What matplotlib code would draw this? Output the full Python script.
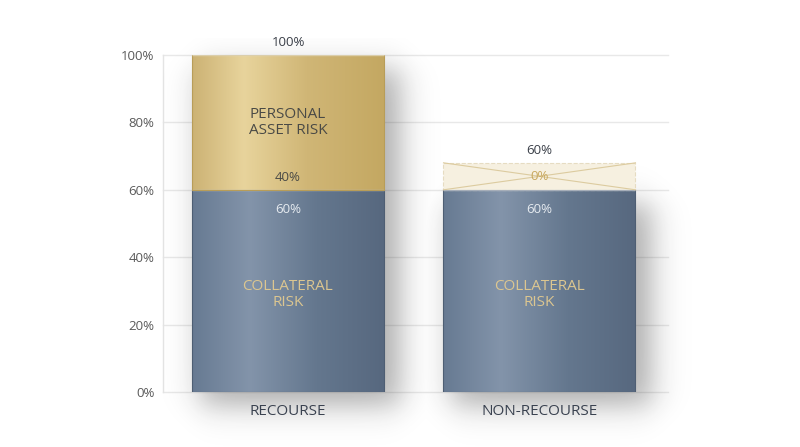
import numpy as np
import matplotlib
matplotlib.use("Agg")
import matplotlib.pyplot as plt
from matplotlib.patches import Rectangle
from matplotlib.colors import LinearSegmentedColormap

# ---- data ----
categories = ["RECOURSE", "NON-RECOURSE"]
collateral = [60, 60]
personal = [40, 0]
totals = [100, 60]
collateral_label = "COLLATERAL\nRISK"
personal_label = "PERSONAL\nASSET RISK"
yticks = [0, 20, 40, 60, 80, 100]

FONT = ["Open Sans", "DejaVu Sans"]
plt.rcParams["font.family"] = FONT

W, H = 800, 447
fig = plt.figure(figsize=(W / 100, H / 100), dpi=100)
ax_l, ax_r, ax_t, ax_b = 163, 668, 55, 392
ax = fig.add_axes([ax_l / W, 1 - ax_b / H, (ax_r - ax_l) / W, (ax_b - ax_t) / H])
xlim = (-0.497, 1.511)
ax.set_xlim(*xlim)
ax.set_ylim(0, 100)
for s in ax.spines.values():
    s.set_visible(False)
ax.set_xticks([])
ax.set_yticks(yticks)
ax.set_yticklabels([f"{v}%" for v in yticks], fontsize=9.5, color="#5a5a5a")
ax.tick_params(axis="y", length=0, pad=6)
for v in yticks:
    ax.axhline(v, color="#e8e8e8", lw=1, zorder=0, clip_on=False)
ax.plot([xlim[0], xlim[0]], [0, 100], color="#e4e4e4", lw=1, zorder=0, clip_on=False)

px_x = (xlim[1] - xlim[0]) / (ax_r - ax_l)
px_y = 100 / (ax_b - ax_t)
bar_w = 192 * px_x
x = np.arange(len(categories))

blue_cmap = LinearSegmentedColormap.from_list(
    "b", [(0, "#677a92"), (0.3, "#8394aa"), (0.65, "#64778e"), (1, "#57687f")])
gold_cmap = LinearSegmentedColormap.from_list(
    "g", [(0, "#ccb274"), (0.27, "#e8d49c"), (0.6, "#d0b676"), (1, "#c4a862")])
grad = np.linspace(0, 1, 256).reshape(1, -1)

# soft shadow behind bars
sx = np.linspace(xlim[0], xlim[1] + 0.3, 600)
sy = np.linspace(-18, 105, 450)
SX, SY = np.meshgrid(sx, sy)
shadow = np.zeros_like(SX)
def sig(z):
    return 1 / (1 + np.exp(-z))
for i in range(len(categories)):
    top = collateral[i] + personal[i]
    x0 = x[i] - bar_w / 2 + 8 * px_x
    x1 = x[i] + bar_w / 2 + 16 * px_x
    y0 = -14 * px_y
    y1 = top - 14 * px_y
    wx = 9 * px_x
    wy = 9 * px_y
    s = sig((SX - x0) / wx) * sig((x1 - SX) / wx) * sig((SY - y0) / wy) * sig((y1 - SY) / wy)
    shadow = np.maximum(shadow, s)
rgba = np.zeros(shadow.shape + (4,))
rgba[..., 0:3] = 0.12
rgba[..., 3] = shadow * 0.36
ax.imshow(rgba, extent=(sx[0], sx[-1], sy[0], sy[-1]), origin="lower",
          aspect="auto", zorder=1, clip_on=False, interpolation="bilinear")

def grad_bar(xc, y0, h, cmap, edge):
    rect = Rectangle((xc - bar_w / 2, y0), bar_w, h, facecolor="none",
                     edgecolor="none", zorder=2)
    ax.add_patch(rect)
    im = ax.imshow(grad, cmap=cmap, extent=(xc - bar_w / 2, xc + bar_w / 2, y0, y0 + h),
                   aspect="auto", zorder=2, interpolation="bilinear")
    im.set_clip_path(rect)
    ax.add_patch(Rectangle((xc - bar_w / 2, y0), bar_w, h, facecolor="none",
                           edgecolor=edge, lw=0.8, zorder=3))
    ax.plot([xc - bar_w / 2, xc + bar_w / 2], [y0 + h, y0 + h], color="white",
            alpha=0.5, lw=1, zorder=3, solid_capstyle="butt")

placeholder_h = 8
for i in range(len(categories)):
    xc = x[i]
    grad_bar(xc, 0, collateral[i], blue_cmap, "#4e5e73")
    ax.text(xc, 29, collateral_label, ha="center", va="center",
            fontsize=11, color="#dcc690", linespacing=1.1, zorder=5)
    ax.annotate(f"{collateral[i]}%", (xc, collateral[i]), xytext=(0, -14),
                textcoords="offset points", ha="center", va="center",
                fontsize=9.5, color="#e6ebf0", zorder=5)
    if personal[i] > 0:
        grad_bar(xc, collateral[i], personal[i], gold_cmap, "#b89d58")
        ax.text(xc, collateral[i] + personal[i] / 2, personal_label, ha="center",
                va="center", fontsize=11, color="#4a4a46", linespacing=1.1, zorder=5)
        ax.annotate(f"{personal[i]}%", (xc, collateral[i]), xytext=(0, 9),
                    textcoords="offset points", ha="center", va="center",
                    fontsize=9.5, color="#4a4a46", zorder=5)
        top = collateral[i] + personal[i]
    else:
        y0 = collateral[i]
        xl, xr = xc - bar_w / 2, xc + bar_w / 2
        ax.add_patch(Rectangle((xl, y0), bar_w, placeholder_h, facecolor="#f6f0e0",
                               edgecolor="#e6dcc2", lw=0.8, ls="--", zorder=2))
        ax.plot([xl, xr], [y0, y0 + placeholder_h], color="#dccb9f", lw=0.8, zorder=3)
        ax.plot([xl, xr], [y0 + placeholder_h, y0], color="#dccb9f", lw=0.8, zorder=3)
        ax.text(xc, y0 + placeholder_h / 2, f"{personal[i]}%", ha="center", va="center",
                fontsize=9.5, color="#c8a85e", zorder=5)
        top = y0 + placeholder_h
    ax.annotate(f"{totals[i]}%", (xc, top), xytext=(0, 9), textcoords="offset points",
                ha="center", va="center", fontsize=9.5, color="#3a3f48", zorder=5)
    ax.annotate(categories[i], (xc, 0), xytext=(0, -14), textcoords="offset points",
                ha="center", va="center", fontsize=11, color="#3a4250", zorder=5,
                annotation_clip=False)

fig.savefig("out.png", dpi=100, facecolor="white")
